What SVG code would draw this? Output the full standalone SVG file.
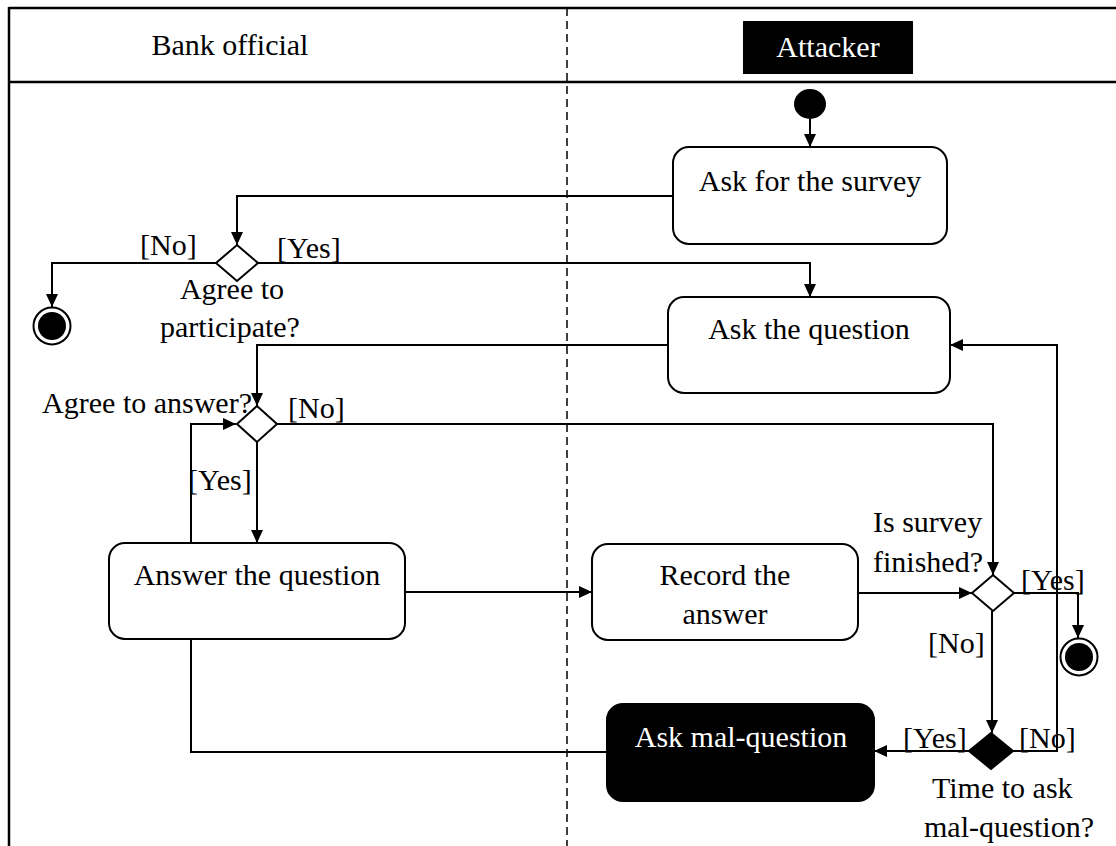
<svg xmlns="http://www.w3.org/2000/svg" width="1116" height="846" viewBox="0 0 1116 846">
<defs>
<marker id="arr" markerUnits="userSpaceOnUse" markerWidth="14" markerHeight="12" refX="13" refY="6" orient="auto">
<path d="M0,0 L13,6 L0,12 Z" fill="#000"/>
</marker>
<style>
text{font-family:"Liberation Serif","Times New Roman",serif;font-size:30px;fill:#000}
.c{text-anchor:middle}
.w{fill:#fff}
.box{fill:#fff;stroke:#000;stroke-width:2}
.dark{fill:#000;stroke:#000;stroke-width:2}
.frame{stroke:#000;stroke-width:2.5;fill:none}
.conn path{fill:none;stroke:#000;stroke-width:2;marker-end:url(#arr)}
</style>
</defs>
<rect width="1116" height="846" fill="#fff"/>
<g id="frame">
<line class="frame" x1="9" y1="8" x2="1116" y2="8"/>
<line class="frame" x1="9" y1="82" x2="1116" y2="82"/>
<line class="frame" x1="9" y1="7" x2="9" y2="846"/>
<line x1="567" y1="8" x2="567" y2="846" stroke="#000" stroke-width="1.5" stroke-dasharray="8,5"/>
</g>
<g id="lane-bank"><text class="c" x="230" y="55">Bank official</text></g>
<g id="lane-attacker">
<rect x="743" y="21" width="170" height="53" fill="#000"/>
<text class="c w" x="828" y="57">Attacker</text>
</g>
<g class="conn" id="connectors">
<path d="M810,119 L810,147"/>
<path d="M673,196 L237,196 L237,245"/>
<path d="M216,263 L52,263 L52,307"/>
<path d="M258,263 L810,263 L810,297"/>
<path d="M668,345 L257,345 L257,406"/>
<path d="M277,424 L993,424 L993,575"/>
<path d="M257,442 L257,543"/>
<path d="M405,592 L592,592"/>
<path d="M858,593 L972,593"/>
<path d="M1014,593 L1078,593 L1078,638"/>
<path d="M992,611 L992,733"/>
<path d="M969,751 L874,751"/>
<path d="M1013,751 L1057,751 L1057,345 L950,345"/>
<path d="M607,752 L191,752 L191,424 L236,424"/>
</g>
<g id="start"><ellipse cx="810" cy="104" rx="16" ry="15" fill="#000"/></g>
<g id="ask-survey">
<rect class="box" x="673" y="147" width="274" height="97" rx="16"/>
<text class="c" x="810" y="191">Ask for the survey</text>
</g>
<g id="d-participate">
<polygon class="box" points="237,245 258,263 237,281 216,263"/>
<text x="140" y="255">[No]</text>
<text x="277" y="258">[Yes]</text>
<text class="c" x="232" y="299">Agree to</text>
<text class="c" x="230" y="337">participate?</text>
</g>
<g id="end1">
<circle cx="52" cy="326" r="18.5" fill="#fff" stroke="#000" stroke-width="2"/>
<circle cx="52" cy="326" r="14" fill="#000"/>
</g>
<g id="ask-question">
<rect class="box" x="668" y="297" width="282" height="96" rx="16"/>
<text class="c" x="809" y="339">Ask the question</text>
</g>
<g id="d-answer">
<polygon class="box" points="257,406 277,424 257,442 237,424"/>
<text x="252" y="413" text-anchor="end">Agree to answer?</text>
<text x="288" y="418">[No]</text>
<text x="188" y="490">[Yes]</text>
</g>
<g id="answer">
<rect class="box" x="109" y="543" width="296" height="96" rx="16"/>
<text class="c" x="257" y="585">Answer the question</text>
</g>
<g id="record">
<rect class="box" x="592" y="544" width="266" height="96" rx="16"/>
<text class="c" x="725" y="585">Record the</text>
<text class="c" x="725" y="624">answer</text>
</g>
<g id="d-finished">
<polygon class="box" points="993,575 1014,593 993,611 972,593"/>
<text x="873" y="532">Is survey</text>
<text x="873" y="572">finished?</text>
<text x="1021" y="590">[Yes]</text>
<text x="928" y="653">[No]</text>
</g>
<g id="end2">
<circle cx="1079" cy="657" r="18.5" fill="#fff" stroke="#000" stroke-width="2"/>
<circle cx="1079" cy="657" r="14" fill="#000"/>
</g>
<g id="d-time">
<polygon class="dark" points="991,733 1013,751 991,769 969,751"/>
<text x="903" y="748">[Yes]</text>
<text x="1019" y="748">[No]</text>
<text x="932" y="798">Time to ask</text>
<text x="924" y="837">mal-question?</text>
</g>
<g id="mal-question">
<rect class="dark" x="607" y="704" width="267" height="97" rx="16"/>
<text class="c w" x="741" y="747">Ask mal-question</text>
</g>
</svg>
